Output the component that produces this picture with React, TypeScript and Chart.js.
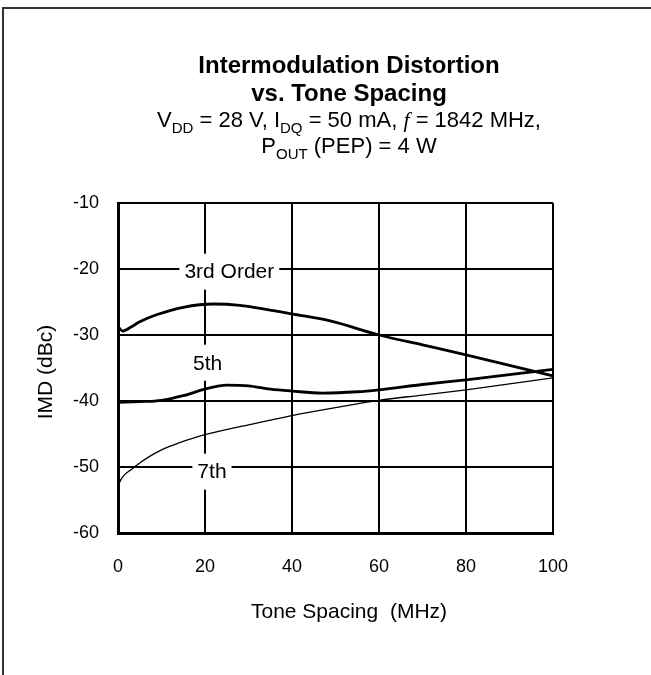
import React, { useEffect, useRef } from "react";
import { Chart, registerables } from "chart.js";

Chart.register(...registerables);

const FONT = "'Liberation Sans', Arial, Helvetica, sans-serif";

// ---- Data ----
const xTicksMin = 0;
const xTicksMax = 100;
const yTicksMin = -60;
const yTicksMax = -10;

const thirdX = [0, 1, 3, 5, 9, 15, 22, 28, 34, 40, 49, 60, 70, 80, 90, 100];
const thirdY = [-28.7, -29.4, -28.8, -28.0, -26.9, -25.8, -25.3, -25.5, -26.1, -26.8, -27.9, -30.0, -31.5, -33.0, -34.6, -36.2];

const fifthX = [0, 5, 10, 15, 20, 25, 30, 35, 40, 47, 55, 60, 70, 80, 90, 100];
const fifthY = [-40.2, -40.1, -39.9, -39.2, -38.2, -37.6, -37.7, -38.2, -38.5, -38.8, -38.6, -38.3, -37.5, -36.8, -36.0, -35.2];

const seventhX = [0, 0.5, 1.5, 3, 5, 7, 10, 13, 16, 20, 30, 40, 50, 60, 70, 80, 90, 100];
const seventhY = [-53, -52.1, -51.2, -50.4, -49.4, -48.5, -47.4, -46.6, -45.9, -45.1, -43.6, -42.2, -41.0, -39.9, -39.1, -38.3, -37.4, -36.5];

const curveLabels = ["3rd Order", "5th", "7th"];
const curveLabelX = [25.6, 20.6, 21.6];
const curveLabelY = [-20.4, -34.2, -50.7];

const titleLines = ["Intermodulation Distortion", "vs. Tone Spacing"];
const xAxisTitle = "Tone Spacing  (MHz)";
const yAxisTitle = "IMD (dBc)";

type Run = { t: string; sub?: boolean; it?: boolean };
const subtitle1: Run[] = [
  { t: "V" }, { t: "DD", sub: true }, { t: " = 28 V, I" }, { t: "DQ", sub: true },
  { t: " = 50 mA, " }, { t: "f", it: true }, { t: " = 1842 MHz," },
];
const subtitle2: Run[] = [{ t: "P" }, { t: "OUT", sub: true }, { t: " (PEP) = 4 W" }];

const pts = (xs: number[], ys: number[]) => xs.map((x, i) => ({ x, y: ys[i] }));

function drawRuns(ctx: CanvasRenderingContext2D, runs: Run[], cx: number, cy: number, size: number) {
  const fontFor = (r: Run) =>
    r.it ? `italic ${size}px 'Liberation Serif', 'Times New Roman', serif` : `${r.sub ? Math.round(size * 0.7) : size}px ${FONT}`;
  let total = 0;
  const widths = runs.map((r) => {
    ctx.font = fontFor(r);
    const w = ctx.measureText(r.t).width;
    total += w;
    return w;
  });
  let x = cx - total / 2;
  ctx.textAlign = "left";
  ctx.textBaseline = "alphabetic";
  runs.forEach((r, i) => {
    ctx.font = fontFor(r);
    ctx.fillText(r.t, x, cy + (r.sub ? size * 0.25 : 0));
    x += widths[i];
  });
}

const overlayPlugin = {
  id: "overlay",
  beforeDatasetsDraw(chart: any) {
    const ctx = chart.ctx as CanvasRenderingContext2D;
    const xs = chart.scales.x;
    const ys = chart.scales.y;
    ctx.save();
    ctx.font = `21px ${FONT}`;
    ctx.textAlign = "center";
    ctx.textBaseline = "middle";
    curveLabels.forEach((lab, i) => {
      const px = xs.getPixelForValue(curveLabelX[i]);
      const py = ys.getPixelForValue(curveLabelY[i]);
      const w = ctx.measureText(lab).width;
      ctx.fillStyle = "#fff";
      ctx.fillRect(px - w / 2 - 5, py - 18, w + 10, 36);
      ctx.fillStyle = "#000";
      ctx.fillText(lab, px, py + 1);
    });
    ctx.restore();
  },
  afterDraw(chart: any) {
    const ctx = chart.ctx as CanvasRenderingContext2D;
    ctx.save();
    // frame
    ctx.strokeStyle = "#333";
    ctx.lineWidth = 2;
    ctx.beginPath();
    ctx.moveTo(3, 675);
    ctx.lineTo(3, 8);
    ctx.lineTo(651, 8);
    ctx.stroke();

    ctx.fillStyle = "#000";
    const cx = 349;
    ctx.textAlign = "center";
    ctx.textBaseline = "alphabetic";
    ctx.font = `bold 24px ${FONT}`;
    ctx.fillText(titleLines[0], cx, 73);
    ctx.fillText(titleLines[1], cx, 101);
    drawRuns(ctx, subtitle1, cx, 127, 22);
    drawRuns(ctx, subtitle2, cx, 153, 22);

    // axis titles
    ctx.font = `21px ${FONT}`;
    ctx.textAlign = "center";
    ctx.textBaseline = "middle";
    ctx.fillText(xAxisTitle, 349, 612);
    ctx.translate(46, 372);
    ctx.rotate(-Math.PI / 2);
    ctx.fillText(yAxisTitle, 0, 0);
    ctx.restore();
  },
};

export default function App() {
  const ref = useRef<HTMLCanvasElement>(null);
  useEffect(() => {
    document.body.style.margin = "0";
    const chart = new Chart(ref.current!, {
      type: "line",
      data: {
        datasets: [
          { label: "3rd", data: pts(thirdX, thirdY), borderColor: "#000", borderWidth: 2.8, pointRadius: 0, cubicInterpolationMode: "monotone", fill: false },
          { label: "5th", data: pts(fifthX, fifthY), borderColor: "#000", borderWidth: 2.8, pointRadius: 0, cubicInterpolationMode: "monotone", fill: false },
          { label: "7th", data: pts(seventhX, seventhY), borderColor: "#000", borderWidth: 1.3, pointRadius: 0, cubicInterpolationMode: "monotone", fill: false },
        ],
      },
      options: {
        animation: false,
        responsive: false,
        devicePixelRatio: 1,
        layout: { padding: { left: 0, top: 203, right: 98, bottom: 0 } },
        plugins: { legend: { display: false }, tooltip: { enabled: false }, title: { display: false } },
        scales: {
          x: {
            type: "linear",
            min: xTicksMin,
            max: xTicksMax,
            ticks: { stepSize: 20, color: "#000", font: { family: FONT, size: 18 }, padding: 23, maxRotation: 0 },
            grid: { color: "#000", lineWidth: 2, drawTicks: false },
            border: { color: "#000", width: 3 },
            afterFit: (s: any) => { s.height = 142; },
          },
          y: {
            type: "linear",
            min: yTicksMin,
            max: yTicksMax,
            ticks: { stepSize: 10, color: "#000", font: { family: FONT, size: 18 }, padding: 19 },
            grid: { color: "#000", lineWidth: 2, drawTicks: false },
            border: { color: "#000", width: 3 },
            afterFit: (s: any) => { s.width = 118; },
          },
        },
      },
      plugins: [overlayPlugin],
    } as any);
    return () => chart.destroy();
  }, []);
  return (
    <div style={{ position: "absolute", left: 0, top: 0, width: 651, height: 675 }}>
      <canvas ref={ref} width={651} height={675} style={{ display: "block" }} />
    </div>
  );
}
